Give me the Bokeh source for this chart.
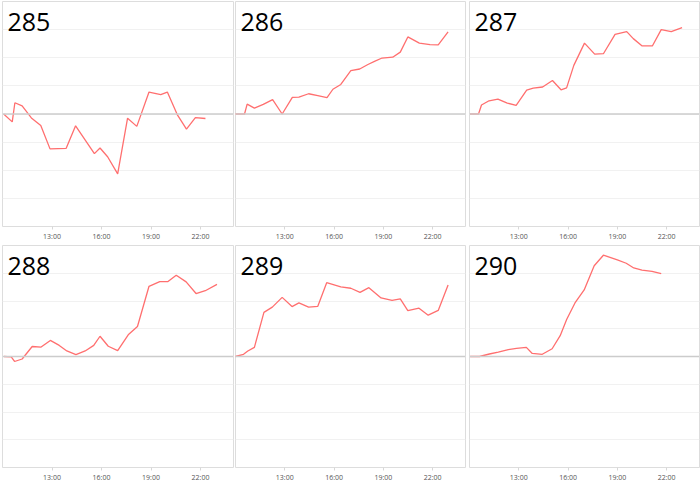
from bokeh.plotting import figure
from bokeh.layouts import gridplot
from bokeh.models import Span, Label, FixedTicker
from bokeh.embed import file_html
from bokeh.resources import INLINE

panel_names = ["285", "286", "287", "288", "289", "290"]
tick_hours = [13, 16, 19, 22]
tick_labels = ["13:00", "16:00", "19:00", "22:00"]
grid_levels = [-4, -3, -2, -1, 0, 1, 2, 3, 4]

hours_285 = [10.07, 10.59, 10.75, 11.19, 11.75, 12.32, 12.88, 13.86, 14.43, 15.57, 15.91,
             16.37, 16.98, 17.58, 18.14, 18.88, 19.59, 19.99, 20.59, 21.15, 21.69, 22.30]
vals_285 = [0.0, -0.28, 0.40, 0.29, -0.14, -0.41, -1.24, -1.22, -0.42, -1.41, -1.21,
            -1.52, -2.13, -0.15, -0.44, 0.78, 0.69, 0.78, -0.02, -0.54, -0.13, -0.16]

hours_286 = [9.99, 10.55, 10.71, 11.15, 11.69, 12.26, 12.84, 13.46, 13.86, 14.45, 15.01, 15.57, 15.93,
             16.41, 17.02, 17.56, 18.06, 18.46, 18.92, 19.57, 20.03, 20.49, 21.19, 21.84, 22.34, 22.94]
vals_286 = [0.0, 0.0, 0.35, 0.21, 0.34, 0.51, 0.0, 0.59, 0.60, 0.72, 0.65, 0.58, 0.88,
            1.05, 1.54, 1.60, 1.76, 1.87, 1.99, 2.02, 2.20, 2.74, 2.52, 2.47, 2.46, 2.92]

hours_287 = [10.03, 10.55, 10.73, 11.19, 11.73, 12.30, 12.84, 13.48, 13.88, 14.45, 15.05, 15.57, 15.91,
             16.35, 17.00, 17.62, 18.16, 18.86, 19.57, 19.97, 20.51, 21.13, 21.67, 22.28, 22.94]
vals_287 = [0.0, 0.0, 0.32, 0.47, 0.53, 0.39, 0.31, 0.85, 0.92, 0.96, 1.19, 0.86, 0.93,
            1.73, 2.52, 2.13, 2.15, 2.83, 2.93, 2.68, 2.42, 2.42, 3.00, 2.93, 3.07]

hours_288 = [10.09, 10.53, 10.73, 11.19, 11.80, 12.34, 12.90, 13.44, 13.90, 14.45, 15.01, 15.53, 15.91,
             16.41, 16.98, 17.62, 18.18, 18.88, 19.53, 20.03, 20.53, 21.13, 21.73, 22.29, 23.00]
vals_288 = [0.0, -0.01, -0.18, -0.09, 0.36, 0.34, 0.58, 0.40, 0.20, 0.07, 0.20, 0.40, 0.73,
            0.37, 0.21, 0.78, 1.08, 2.53, 2.70, 2.70, 2.93, 2.69, 2.27, 2.37, 2.60]

hours_289 = [9.99, 10.49, 10.75, 11.15, 11.73, 12.24, 12.84, 13.44, 13.86, 14.45, 15.01, 15.55,
             16.41, 17.02, 17.58, 18.12, 18.86, 19.53, 20.03, 20.49, 21.17, 21.73, 22.34, 22.94]
vals_289 = [0.0, 0.08, 0.20, 0.33, 1.59, 1.78, 2.13, 1.80, 1.93, 1.78, 1.81, 2.66,
            2.51, 2.46, 2.31, 2.48, 2.11, 2.02, 2.08, 1.65, 1.74, 1.49, 1.66, 2.58]

hours_290 = [10.04, 10.61, 11.21, 11.75, 12.36, 12.86, 13.46, 13.82, 14.43, 15.03, 15.52,
             15.92, 16.42, 16.98, 17.59, 18.15, 19.00, 19.54, 20.00, 20.50, 21.11, 21.67]
vals_290 = [0.0, 0.0, 0.09, 0.16, 0.25, 0.29, 0.33, 0.11, 0.08, 0.28, 0.75,
            1.34, 1.93, 2.40, 3.27, 3.65, 3.48, 3.36, 3.19, 3.11, 3.07, 2.99]

series = [(hours_285, vals_285), (hours_286, vals_286), (hours_287, vals_287),
          (hours_288, vals_288), (hours_289, vals_289), (hours_290, vals_290)]

LINE_COLOR = "#ff6f6f"
col_widths = [234, 233, 233]
col_borders = [(2, 1), (1, 2), (2, 1)]
row_heights = [243, 241]
row_borders = [(1, 16), (2, 12)]


def make_panel(idx, name, hours, vals):
    c, r = idx % 3, idx // 3
    p = figure(width=col_widths[c], height=row_heights[r], x_range=(10, 24), y_range=(-4, 4),
               output_backend="svg", toolbar_location=None,
               min_border_left=col_borders[c][0], min_border_right=col_borders[c][1],
               min_border_top=row_borders[r][0], min_border_bottom=row_borders[r][1])
    p.background_fill_color = "white"
    p.border_fill_color = "white"
    p.outline_line_color = "#dddddd"
    p.outline_line_width = 1
    p.yaxis.visible = False
    p.yaxis.ticker = FixedTicker(ticks=grid_levels)
    p.ygrid.ticker = FixedTicker(ticks=grid_levels)
    p.ygrid.grid_line_color = "#f1f1f1"
    p.ygrid.grid_line_width = 1
    p.xgrid.visible = False

    ax = p.xaxis[0]
    ax.ticker = FixedTicker(ticks=tick_hours)
    ax.major_label_overrides = {h: l for h, l in zip(tick_hours, tick_labels)}
    ax.axis_line_color = None
    ax.major_tick_line_color = "#d8d8d8"
    ax.major_tick_in = 0
    ax.major_tick_out = 3
    ax.minor_tick_line_color = None
    ax.major_label_text_font = "Open Sans"
    ax.major_label_text_font_size = "7px"
    ax.major_label_text_color = "#555555"
    ax.major_label_standoff = 2

    p.add_layout(Span(location=0, dimension="width", line_color="#cccccc", line_width=1.6))
    p.line(hours, vals, line_color=LINE_COLOR, line_width=1.3)

    p.add_layout(Label(x=10, y=4, x_offset=5, y_offset=-11, text=name,
                       text_font="Open Sans", text_font_size="25px",
                       text_color="black", text_baseline="top"))
    return p


figs = [make_panel(i, n, h, v) for i, (n, (h, v)) in enumerate(zip(panel_names, series))]
grid = gridplot([figs[:3], figs[3:]], toolbar_location=None)

open("out.html", "w").write(file_html(grid, INLINE))
